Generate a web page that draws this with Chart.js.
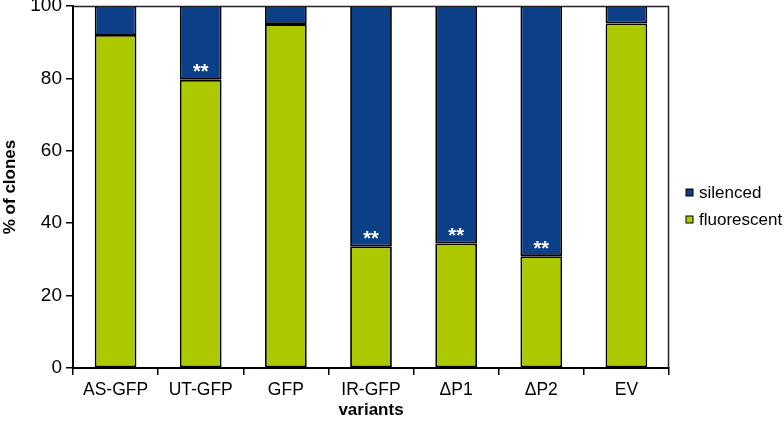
<!DOCTYPE html>
<html>
<head>
<meta charset="utf-8">
<script src="https://cdn.jsdelivr.net/npm/chart.js@4/dist/chart.umd.min.js"></script>
<style>
  html, body { margin: 0; padding: 0; background: #fff; }
  #wrap { width: 784px; height: 423px; }
</style>
</head>
<body>
<div id="wrap"><canvas id="c" width="784" height="423"></canvas></div>
<script>
const categories = ['AS-GFP', 'UT-GFP', 'GFP', 'IR-GFP', '\u0394P1', '\u0394P2', 'EV'];
const fluorescent = [92, 79.6, 95, 33.6, 34.4, 30.9, 95.2];
const silenced = [8, 20.4, 5, 66.4, 65.6, 69.1, 4.8];
const significance = ['', '**', '', '**', '**', '**', ''];
const yTicks = [0, 20, 40, 60, 80, 100];

const BLUE = '#0b3f88';
const GREEN = '#aec800';
const FONT = '"Liberation Sans", Arial, Helvetica, sans-serif';

const extras = {
  id: 'extras',
  afterDatasetsDraw(chart) {
    const ctx = chart.ctx;
    const {left, right, top, bottom} = chart.chartArea;
    const x = chart.scales.x, y = chart.scales.y;
    ctx.save();
    // frame top & right
    ctx.strokeStyle = '#222';
    ctx.lineWidth = 1.5;
    ctx.beginPath();
    ctx.moveTo(left, top + 0.5);
    ctx.lineTo(right - 0.5, top + 0.5);
    ctx.lineTo(right - 0.5, bottom);
    ctx.stroke();
    // significance stars
    ctx.fillStyle = '#ffffff';
    ctx.font = 'bold 20px ' + FONT;
    ctx.textAlign = 'center';
    ctx.textBaseline = 'middle';
    significance.forEach((s, i) => {
      if (!s) return;
      const px = x.getPixelForValue(i);
      const py = y.getPixelForValue(fluorescent[i]);
      ctx.fillText(s, px, py - 7);
    });
    // legend
    const items = [
      {label: chart.data.datasets[1].label, color: chart.data.datasets[1].backgroundColor},
      {label: chart.data.datasets[0].label, color: chart.data.datasets[0].backgroundColor}
    ];
    ctx.font = '17px ' + FONT;
    ctx.textAlign = 'left';
    ctx.textBaseline = 'middle';
    items.forEach((it, k) => {
      const cy = 193 + k * 27;
      ctx.fillStyle = it.color;
      ctx.fillRect(686, cy - 4, 7, 7);
      ctx.strokeStyle = '#000';
      ctx.lineWidth = 1;
      ctx.strokeRect(686, cy - 4, 7, 7);
      ctx.fillStyle = '#000';
      ctx.fillText(it.label, 699, cy);
    });
    ctx.restore();
  }
};

new Chart(document.getElementById('c'), {
  type: 'bar',
  data: {
    labels: categories,
    datasets: [
      {label: 'fluorescent', data: fluorescent, backgroundColor: GREEN, borderColor: '#000', borderWidth: 1.8, borderSkipped: false},
      {label: 'silenced', data: silenced, backgroundColor: BLUE, borderColor: '#000', borderWidth: 1.8, borderSkipped: false}
    ]
  },
  options: {
    responsive: false,
    animation: false,
    devicePixelRatio: 1,
    layout: {padding: {left: 0, right: 115, top: 6, bottom: 0}},
    datasets: {bar: {categoryPercentage: 1, barPercentage: 0.49}},
    plugins: {legend: {display: false}, tooltip: {enabled: false}},
    scales: {
      x: {
        stacked: true,
        afterFit(s) { s.height = 55; s.paddingLeft = 0; s.paddingRight = 0; },
        grid: {offset: true, drawOnChartArea: false, tickLength: 7, color: '#000', lineWidth: 1.5},
        border: {display: true, color: '#000', width: 2},
        ticks: {color: '#000', font: {family: FONT, size: 17.5}, padding: 5, maxRotation: 0},
        title: {display: true, text: 'variants', color: '#000', font: {family: FONT, size: 17, weight: 'bold'}, padding: {top: 0, bottom: 2}}
      },
      y: {
        stacked: true,
        min: 0, max: 100,
        afterFit(s) { s.width = 73; s.paddingTop = 0; s.paddingBottom = 0; },
        afterBuildTicks(s) { s.ticks = yTicks.map(v => ({value: v})); },
        grid: {drawOnChartArea: false, tickLength: 7, color: '#000', lineWidth: 1.5},
        border: {display: true, color: '#000', width: 2},
        ticks: {color: '#000', font: {family: FONT, size: 19}, padding: 4},
        title: {display: true, text: '% of clones', color: '#000', font: {family: FONT, size: 17, weight: 'bold'}, padding: {top: 0, bottom: 0}}
      }
    }
  },
  plugins: [extras]
});
</script>
</body>
</html>
